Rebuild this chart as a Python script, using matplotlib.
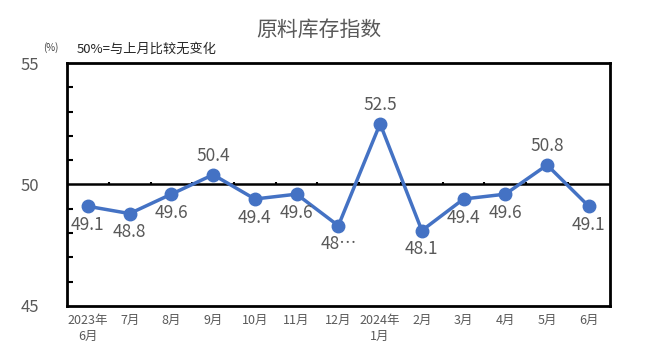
import matplotlib
matplotlib.use("Agg")
import matplotlib.pyplot as plt
import numpy as np

plt.rcParams['font.family'] = ['Noto Sans CJK SC', 'DejaVu Sans']

months = ["2023年\n6月", "7月", "8月", "9月", "10月", "11月", "12月",
          "2024年\n1月", "2月", "3月", "4月", "5月", "6月"]
values = [49.1, 48.8, 49.6, 50.4, 49.4, 49.6, 48.3, 52.5, 48.1, 49.4, 49.6, 50.8, 49.1]
labels = ["49.1", "48.8", "49.6", "50.4", "49.4", "49.6", "48…",
          "52.5", "48.1", "49.4", "49.6", "50.8", "49.1"]
above = [False, False, False, True, False, False, False, True, False, False, False, True, False]

fig = plt.figure(figsize=(6.57, 3.54), dpi=100)
ax = fig.add_axes([0.102, 0.136, 0.826, 0.686])

x = np.arange(len(values))
ax.plot(x, values, color="#4472C4", lw=2.5, marker="o", ms=9, zorder=3)

# 50 reference line with small category separators
ax.axhline(50, color="black", lw=1.8, zorder=2)
ax.vlines(np.arange(len(values) - 1) + 0.5, 50, 50.12, color="black", lw=1.5, zorder=2)

for xi, v, t, up in zip(x, values, labels, above):
    if up:
        ax.annotate(t, (xi, v), xytext=(0, 7), textcoords="offset points",
                    ha="center", va="bottom", fontsize=12.5, color="#595959")
    else:
        ax.annotate(t, (xi, v), xytext=(0, -7), textcoords="offset points",
                    ha="center", va="top", fontsize=12.5, color="#595959")

ax.set_xlim(-0.5, len(values) - 0.5)
ax.set_ylim(45, 55)
ax.set_yticks([45, 50, 55])
ax.set_yticks(np.arange(45, 56, 1), minor=True)
ax.tick_params(axis="y", which="major", length=0, labelsize=12, labelcolor="#595959", pad=20)
ax.tick_params(axis="y", which="minor", direction="in", length=4, width=1.5, color="black")
ax.set_xticks(x)
ax.set_xticklabels(months, fontsize=9, color="#595959", linespacing=1.3)
ax.tick_params(axis="x", length=0, pad=6)

for s in ax.spines.values():
    s.set_linewidth(2)
    s.set_color("black")

fig.text(0.486, 0.915, "原料库存指数", ha="center", va="center", fontsize=15, color="#595959")
fig.text(0.066, 0.865, "(%)", ha="left", va="center", fontsize=7, color="#404040")
fig.text(0.117, 0.862, "50%=与上月比较无变化", ha="left", va="center", fontsize=9.5, color="#262626")

fig.savefig("out.png", dpi=100)
